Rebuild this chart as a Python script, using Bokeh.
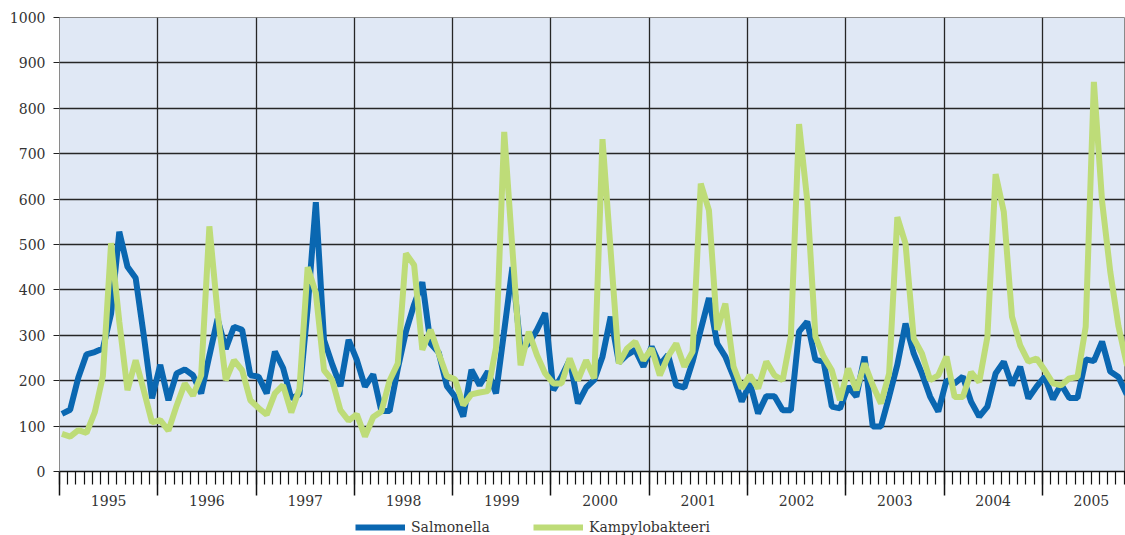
from bokeh.plotting import figure
from bokeh.models import (FixedTicker, Range1d, ColumnDataSource, Legend,
                          LegendItem, CustomJSTickFormatter, LinearAxis)
from bokeh.layouts import column
from bokeh.embed import file_html
from bokeh.resources import INLINE

years = [str(y) for y in range(1995, 2006)]
y_ticks = list(range(0, 1001, 100))

salmonella = [
    127, 136, 207, 258, 263, 271, 348, 528, 451, 426, 298, 161,   # 1995
    235, 157, 216, 225, 212, 172, 255, 336, 270, 319, 312, 212,   # 1996
    209, 172, 264, 228, 161, 170, 360, 593, 290, 236, 188, 290,   # 1997
    246, 187, 214, 133, 133, 226, 308, 368, 417, 282, 262, 188,   # 1998
    165, 121, 224, 190, 220, 172, 310, 450, 268, 282, 312, 349,   # 1999
    179, 209, 246, 150, 185, 202, 253, 341, 240, 257, 268, 231,   # 2000
    275, 235, 257, 190, 185, 242, 312, 382, 282, 253, 209, 154,   # 2001
    194, 128, 166, 166, 135, 135, 308, 330, 246, 242, 143, 139,   # 2002
    187, 165, 253, 99, 99, 165, 235, 326, 260, 216, 165, 132,     # 2003
    201, 194, 209, 154, 121, 143, 216, 242, 190, 231, 161, 187,   # 2004
    209, 159, 192, 162, 162, 247, 243, 286, 220, 208, 170, 215,   # 2005
]

kampylobakteeri = [
    83, 77, 91, 85, 130, 210, 503, 330, 179, 245, 178, 108,       # 1995
    113, 90, 145, 194, 167, 212, 540, 350, 201, 245, 223, 157,    # 1996
    140, 125, 172, 190, 130, 182, 450, 393, 223, 201, 135, 112,   # 1997
    126, 77, 120, 132, 200, 238, 480, 455, 268, 312, 260, 210,    # 1998
    203, 146, 170, 174, 177, 273, 748, 490, 234, 308, 256, 216,   # 1999
    194, 194, 249, 201, 245, 205, 732, 485, 238, 271, 286, 245,   # 2000
    271, 212, 253, 282, 231, 264, 634, 575, 312, 370, 231, 183,   # 2001
    212, 183, 242, 212, 201, 297, 765, 597, 297, 253, 223, 157,   # 2002
    227, 179, 238, 190, 150, 216, 560, 502, 293, 260, 201, 212,   # 2003
    253, 164, 164, 219, 197, 297, 655, 572, 341, 278, 242, 249,   # 2004
    223, 194, 190, 205, 208, 319, 858, 595, 440, 320, 237, 205,   # 2005
]

BLUE = "#0A67B1"
GREEN = "#BEDC78"
BG = "#E0E8F5"
TXT = "#333333"
FONT = "DejaVu Serif"
LW = 6

months = list(range(len(salmonella)))
src = ColumnDataSource(dict(x=[m + 0.3 for m in months],
                            salmonella=salmonella,
                            kampylobakteeri=kampylobakteeri))

n_months = 12 * len(years)
p = figure(width=1125, height=512, output_backend="svg", toolbar_location=None,
           x_range=Range1d(0, 130.16), y_range=Range1d(0, 1000),
           min_border_left=59, min_border_top=17, min_border_right=0,
           min_border_bottom=41)

p.background_fill_color = BG
p.border_fill_color = "white"
p.outline_line_color = "#8a8a8a"
p.outline_line_width = 1

year_ticks = [12 * k for k in range(len(years) + 1)]
month_ticks = list(range(0, n_months + 1))
year_centres = [12 * k + 6 for k in range(len(years))]

# x axis: long ticks at year boundaries, short ticks each month
xax = p.xaxis[0]
xax.ticker = FixedTicker(ticks=year_ticks, minor_ticks=month_ticks)
xax.formatter = CustomJSTickFormatter(code="return ''")
xax.major_label_text_font_size = "1px"
xax.major_label_standoff = 0
xax.axis_line_color = "#111111"
xax.axis_line_width = 1.3
xax.major_tick_line_color = "#111111"
xax.major_tick_line_width = 1.5
xax.major_tick_out = 24
xax.major_tick_in = 0
xax.minor_tick_line_color = "#111111"
xax.minor_tick_line_width = 1.2
xax.minor_tick_out = 13
xax.minor_tick_in = 0

# second axis carrying the year names, centred in each year
yr_axis = LinearAxis(ticker=FixedTicker(ticks=year_centres),
                     major_label_overrides={c: y for c, y in zip(year_centres, years)})
yr_axis.axis_line_color = None
yr_axis.major_tick_line_color = None
yr_axis.minor_tick_line_color = None
yr_axis.major_tick_out = 0
yr_axis.major_tick_in = 0
yr_axis.major_label_standoff = -1
yr_axis.major_label_text_font = FONT
yr_axis.major_label_text_font_size = "14px"
yr_axis.major_label_text_color = TXT
p.add_layout(yr_axis, "below")

yax = p.yaxis[0]
yax.ticker = FixedTicker(ticks=y_ticks)
yax.axis_line_color = "#8a8a8a"
yax.major_tick_line_color = "#222222"
yax.major_tick_out = 6
yax.major_tick_in = 0
yax.minor_tick_line_color = None
yax.major_label_standoff = 8
yax.major_label_text_font = FONT
yax.major_label_text_font_size = "14px"
yax.major_label_text_color = TXT

p.xgrid.ticker = FixedTicker(ticks=year_ticks)
p.xgrid.grid_line_color = "#262626"
p.xgrid.grid_line_width = 1.3
p.ygrid.grid_line_color = "#262626"
p.ygrid.grid_line_width = 1.3

p.line("x", "salmonella", source=src, line_color=BLUE, line_width=LW)
p.line("x", "kampylobakteeri", source=src, line_color=GREEN, line_width=LW)

# legend strip below the chart (its frame is aligned with the chart's frame);
# the series lie above its small y range, so only the legend shows
lg = figure(width=1125, height=23, output_backend="svg", toolbar_location=None,
            x_range=Range1d(0, 130.16), y_range=Range1d(0, 23),
            min_border=0, outline_line_color=None)
lg.axis.visible = False
lg.grid.visible = False
l1 = lg.line("x", "salmonella", source=src, line_color=BLUE, line_width=LW)
l2 = lg.line("x", "kampylobakteeri", source=src, line_color=GREEN, line_width=LW)


def add_item(label, rend, loc):
    leg = Legend(items=[LegendItem(label=label, renderers=[rend])], location=loc,
                 orientation="horizontal", padding=0, margin=0, spacing=0,
                 glyph_width=50, glyph_height=14, label_height=14,
                 label_standoff=6, label_text_font=FONT,
                 label_text_font_size="14px", label_text_color=TXT,
                 border_line_color=None, background_fill_alpha=0)
    lg.add_layout(leg, "center")


add_item("Salmonella", l1, (296, 0))
add_item("Kampylobakteeri", l2, (474, 0))

layout = column(p, lg, spacing=0)
open("out.html", "w").write(file_html(layout, INLINE))
